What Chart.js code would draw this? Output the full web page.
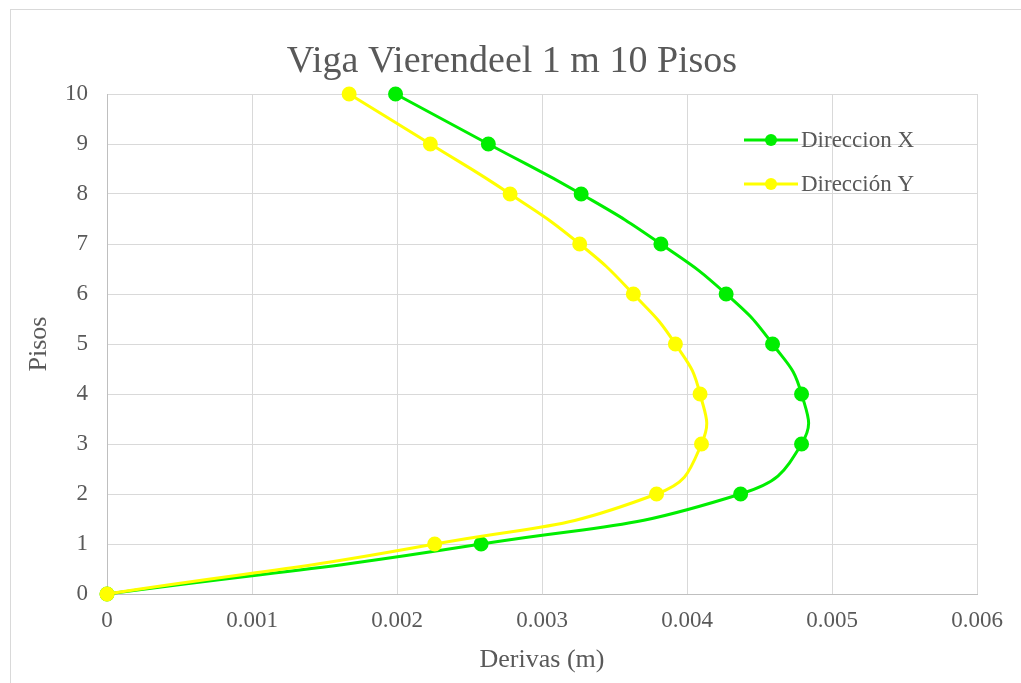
<!DOCTYPE html>
<html>
<head>
<meta charset="utf-8">
<script src="https://cdn.jsdelivr.net/npm/chart.js@4/dist/chart.umd.min.js"></script>
<style>
html,body{margin:0;padding:0;background:#fff;}
#wrap{width:1021px;height:683px;position:relative;}
</style>
</head>
<body>
<div id="wrap"><canvas id="c" width="1021" height="683"></canvas></div>
<script>
const pisos = [0,1,2,3,4,5,6,7,8,9,10];
const derivaX = [0,0.00258,0.00437,0.00479,0.00479,0.00459,0.00427,0.00382,0.00327,0.00263,0.00199];
const derivaY = [0,0.00226,0.00379,0.00410,0.00409,0.00392,0.00363,0.00326,0.00278,0.00223,0.00167];
const xTickLabels = ['0','0.001','0.002','0.003','0.004','0.005','0.006'];
const yTickLabels = ['0','1','2','3','4','5','6','7','8','9','10'];
const seriesNames = ['Direccion X','Dirección Y'];
const titleText = 'Viga Vierendeel 1 m 10 Pisos';
const xTitle = 'Derivas (m)';
const yTitle = 'Pisos';

const FONT = '"Liberation Serif","Times New Roman",serif';
const TXT = '#595959';

const toPts = (xs, ys) => xs.map((x,i)=>({x:x,y:ys[i]}));

const framePlugin = {
  id:'frame',
  beforeDraw(chart){
    const ctx = chart.ctx;
    ctx.save();
    ctx.fillStyle='#fff';
    ctx.fillRect(0,0,chart.width,chart.height);
    ctx.strokeStyle='#d9d9d9';
    ctx.lineWidth=1;
    ctx.strokeRect(10.5,9.5,1200,1000);
    ctx.restore();
  }
};

const titlePlugin = {
  id:'myTitle',
  afterDraw(chart){
    const ctx = chart.ctx;
    ctx.save();
    ctx.fillStyle = TXT;
    ctx.font = '38px ' + FONT;
    ctx.textAlign = 'center';
    ctx.textBaseline = 'middle';
    ctx.fillText(titleText, 512, 62);
    ctx.restore();
  }
};

const legendPlugin = {
  id:'inLegend',
  afterDraw(chart){
    const ctx = chart.ctx;
    ctx.save();
    chart.data.datasets.forEach((ds,i)=>{
      const y = 140 + i*44;
      ctx.strokeStyle = ds.borderColor;
      ctx.lineWidth = 3;
      ctx.beginPath(); ctx.moveTo(744,y); ctx.lineTo(798,y); ctx.stroke();
      ctx.fillStyle = ds.pointBackgroundColor;
      ctx.beginPath(); ctx.arc(771,y,6,0,Math.PI*2); ctx.fill();
      ctx.fillStyle = TXT;
      ctx.font = '23px ' + FONT;
      ctx.textBaseline='middle';
      ctx.textAlign='left';
      ctx.fillText(ds.label, 801, y+1);
    });
    ctx.restore();
  }
};

new Chart(document.getElementById('c'), {
  type:'scatter',
  data:{
    datasets:[
      {label:seriesNames[0], data:toPts(derivaX,pisos), showLine:true, clip:false, borderColor:'#00ee00', backgroundColor:'#00ee00', pointBackgroundColor:'#00ee00', pointBorderColor:'#00ee00', borderWidth:3, pointRadius:6, tension:0.5, order:1},
      {label:seriesNames[1], data:toPts(derivaY,pisos), showLine:true, clip:false, borderColor:'#ffff00', backgroundColor:'#ffff00', pointBackgroundColor:'#ffff00', pointBorderColor:'#ffff00', borderWidth:3, pointRadius:6, tension:0.5, order:0}
    ]
  },
  options:{
    responsive:false,
    animation:false,
    layout:{padding:{left:0,right:44,top:94,bottom:0}},
    plugins:{
      legend:{display:false},
      tooltip:{enabled:false},
      title:{display:false}
    },
    scales:{
      x:{
        type:'linear', min:0, max:0.006,
        ticks:{stepSize:0.001, color:TXT, font:{family:FONT,size:23}, padding:13,
          callback:(v,i)=>xTickLabels[i]},
        grid:{color:'#d9d9d9', drawTicks:false},
        border:{color:'#bfbfbf'},
        title:{display:true, text:xTitle, color:TXT, font:{family:FONT,size:26}, padding:{top:0,bottom:7}},
        afterFit(s){s.height=89;}
      },
      y:{
        type:'linear', min:0, max:10,
        ticks:{stepSize:1, color:TXT, font:{family:FONT,size:23}, padding:19,
          callback:(v,i)=>yTickLabels[i]},
        grid:{color:'#d9d9d9', drawTicks:false},
        border:{color:'#bfbfbf'},
        title:{display:true, text:yTitle, color:TXT, font:{family:FONT,size:26}, padding:{top:24,bottom:0}},
        afterFit(s){s.width=107;}
      }
    }
  },
  plugins:[framePlugin, titlePlugin, legendPlugin]
});
</script>
</body>
</html>
